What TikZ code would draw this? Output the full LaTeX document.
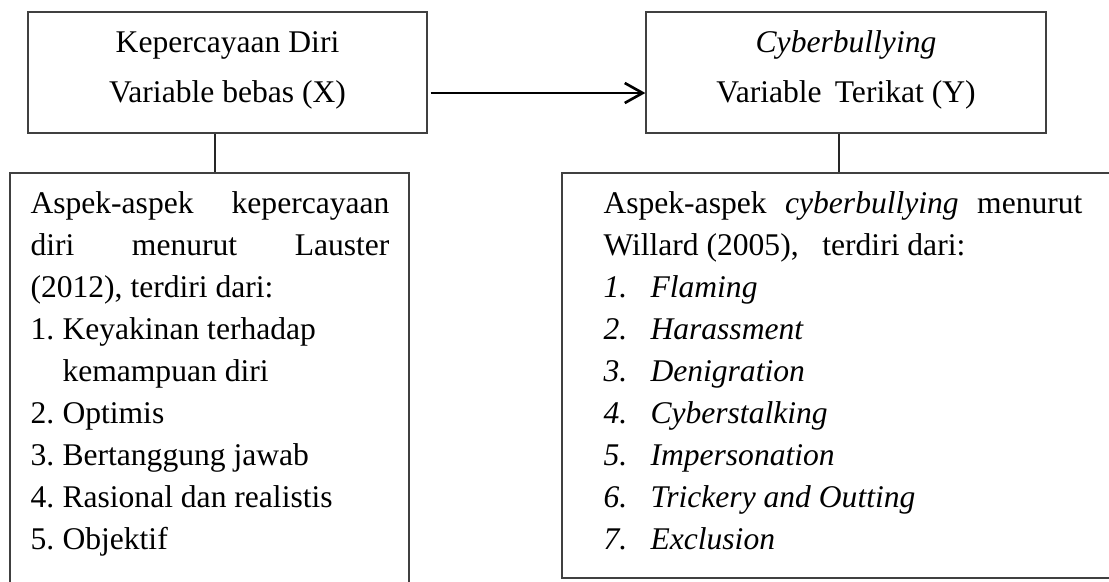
\documentclass[tikz,border=0pt]{standalone}
\usepackage{fontspec}
\setmainfont{Liberation Serif}
\usetikzlibrary{arrows.meta,fit}
\begin{document}
\begin{tikzpicture}[x=0.38pt,y=-0.38pt,
  box/.style={draw=black!75, line width=0.5pt, inner sep=0pt},
  txt/.style={inner sep=0pt, font=\fontsize{12}{16}\selectfont},
  conn/.style={draw=black!85, line width=0.6pt},
  arr/.style={draw=black, line width=1pt, -{Straight Barb[length=6.8pt,width=7.6pt,line width=1pt]}}]
\useasboundingbox (0,0) rectangle (1109,581);
\clip (0,0) rectangle (1109,581);
% boxes
\node[box, fit={(28,12) (427,133)}] (topL) {};
\node[box, fit={(646,12) (1046,133)}] (topR) {};
\node[box, fit={(10,173) (409,600)}] (botL) {};
\node[box, fit={(562,173) (1130,578)}] (botR) {};
% top texts
\node[txt, anchor=base] (tl1) at (227.5,52) {Kepercayaan Diri};
\node[txt, anchor=base] (tl2) at (227.5,102) {Variable bebas (X)};
\node[txt, anchor=base] (tr1) at (846,52) {\textit{Cyberbullying}};
\node[txt, anchor=base] (tr2) at (846,102) {Variable\hspace{5pt}Terikat (Y)};
% left list
\node[txt, anchor=base west] (l1) at (30,213) {\makebox[136.4pt][s]{Aspek-aspek kepercayaan}};
\node[txt, anchor=base west] (l2) at (30,255.1) {\makebox[136.4pt][s]{diri menurut Lauster}};
\node[txt, anchor=base west] (l3) at (30,297.2) {(2012), terdiri dari:};
\node[txt, anchor=base west] (l4n) at (30,339.3) {1.};
\node[txt, anchor=base west] (l4) at (62,339.3) {Keyakinan terhadap};
\node[txt, anchor=base west] (l5) at (62,381.4) {kemampuan diri};
\node[txt, anchor=base west] (l6n) at (30,423.5) {2.};
\node[txt, anchor=base west] (l6) at (62,423.5) {Optimis};
\node[txt, anchor=base west] (l7n) at (30,465.6) {3.};
\node[txt, anchor=base west] (l7) at (62,465.6) {Bertanggung jawab};
\node[txt, anchor=base west] (l8n) at (30,507.7) {4.};
\node[txt, anchor=base west] (l8) at (62,507.7) {Rasional dan realistis};
\node[txt, anchor=base west] (l9n) at (30,549.8) {5.};
\node[txt, anchor=base west] (l9) at (62,549.8) {Objektif};
% right list
\node[txt, anchor=base west] (r1) at (603,213) {\makebox[182pt][s]{Aspek-aspek \textit{cyberbullying} menurut}};
\node[txt, anchor=base west] (r2) at (603,255.1) {Willard (2005),\hspace{9pt}terdiri dari:};
\node[txt, anchor=base west] (r3n) at (603,297.2) {\textit{1.}};
\node[txt, anchor=base west] (r3) at (650,297.2) {\textit{Flaming}};
\node[txt, anchor=base west] (r4n) at (603,339.3) {\textit{2.}};
\node[txt, anchor=base west] (r4) at (650,339.3) {\textit{Harassment}};
\node[txt, anchor=base west] (r5n) at (603,381.4) {\textit{3.}};
\node[txt, anchor=base west] (r5) at (650,381.4) {\textit{Denigration}};
\node[txt, anchor=base west] (r6n) at (603,423.5) {\textit{4.}};
\node[txt, anchor=base west] (r6) at (650,423.5) {\textit{Cyberstalking}};
\node[txt, anchor=base west] (r7n) at (603,465.6) {\textit{5.}};
\node[txt, anchor=base west] (r7) at (650,465.6) {\textit{Impersonation}};
\node[txt, anchor=base west] (r8n) at (603,507.7) {\textit{6.}};
\node[txt, anchor=base west] (r8) at (650,507.7) {\textit{Trickery and Outting}};
\node[txt, anchor=base west] (r9n) at (603,549.8) {\textit{7.}};
\node[txt, anchor=base west] (r9) at (650,549.8) {\textit{Exclusion}};
% connectors
\coordinate (cL) at (215,0);
\coordinate (cR) at (839,0);
\coordinate (ay) at (0,93);
\draw[conn] (topL.south -| cL) -- (botL.north -| cL);
\draw[conn] (topR.south -| cR) -- (botR.north -| cR);
\draw[arr, shorten <=1.1pt] (topL.east |- ay) -- (topR.west |- ay);
\end{tikzpicture}
\end{document}
